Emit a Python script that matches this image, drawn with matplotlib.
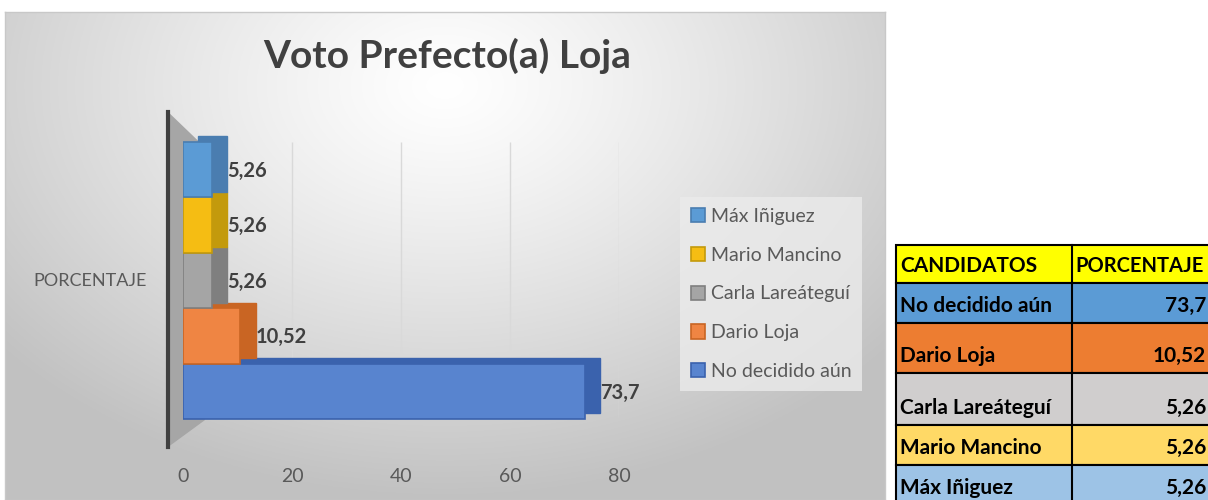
import numpy as np
import matplotlib
matplotlib.use("Agg")
import matplotlib.pyplot as plt
import matplotlib.patches as patches
from matplotlib.transforms import ScaledTranslation

plt.rcParams["font.family"] = ["Lato", "DejaVu Sans"]

# data
candidatos = ["No decidido aún", "Dario Loja", "Carla Lareáteguí", "Mario Mancino", "Máx Iñiguez"]
porcentaje = [73.7, 10.52, 5.26, 5.26, 5.26]
etiquetas = ["73,7", "10,52", "5,26", "5,26", "5,26"]
front_colors = ["#5884cf", "#ef8543", "#a5a5a5", "#f5bd13", "#5b9bd5"]
side_colors = ["#3a62ad", "#c96523", "#7f7f7f", "#c39a0c", "#4a7db0"]
table_colors = ["#5b9bd5", "#ed7d31", "#d0cece", "#ffd966", "#9dc3e6"]
xticks = [0, 20, 40, 60, 80]

W, H = 1208, 500
fig = plt.figure(figsize=(W / 100, H / 100), dpi=100)
fig.patch.set_facecolor("white")

# chart panel with radial gradient background
bg = fig.add_axes([5 / W, 0, 880 / W, 488 / H])
yy, xx = np.mgrid[0:1:300j, 0:1:600j]
r = np.sqrt(((xx - 0.5) / 0.7) ** 2 + ((yy - 0.15) / 0.9) ** 2)
g = np.clip(1.0 - 0.26 * r ** 1.2, 0.76, 1.0)
bg.imshow(np.dstack([g, g, g]), extent=[0, 1, 0, 1], origin="upper", aspect="auto")
bg.set_xlim(0, 1)
bg.set_ylim(0, 1)
bg.set_xticks([])
bg.set_yticks([])
for s in bg.spines.values():
    s.set_color("#c8c8c8")
    s.set_linewidth(1)

fig.text(447 / W, 1 - 56 / H, "Voto Prefecto(a) Loja", ha="center", va="center",
         fontsize=28, fontweight="bold", color="#404040")

# main axes
ax = fig.add_axes([183 / W, 53 / H, 436 / W, 335 / H])
ax.patch.set_alpha(0)
ax.set_xlim(0, 80)
ax.set_ylim(-1.005, 5.04)
for s in ax.spines.values():
    s.set_visible(False)
ax.set_yticks([])
ax.set_xticks(xticks)
ax.set_xticklabels([str(t) for t in xticks], fontsize=14, color="#595959")
ax.tick_params(axis="x", length=0, pad=15)
ax.vlines(xticks[1:], 0.09, 0.91, transform=ax.get_xaxis_transform(),
          color="#d9d9d9", lw=1, zorder=0)

# side wall and axis line
wall = patches.Polygon([(-0.034, 1.0), (0.050, 0.895), (0.050, 0.08), (-0.034, 0.0)],
                       closed=True, transform=ax.transAxes, clip_on=False,
                       facecolor="#a6a6a6", edgecolor="none", zorder=1)
ax.add_patch(wall)
ax.plot([-0.034, -0.034], [0, 1], transform=ax.transAxes, clip_on=False,
        color="#404040", lw=3, zorder=2)

# bars: depth face behind, front face on top
y = np.arange(len(candidatos))
depth = ax.transData + ScaledTranslation(11 / 72, 4 / 72, fig.dpi_scale_trans)
ax.barh(y, porcentaje, height=1.0, color=side_colors, edgecolor=side_colors,
        lw=1, transform=depth, zorder=3)
bars = ax.barh(y, porcentaje, height=1.0, color=front_colors,
               edgecolor=side_colors, lw=1.2, zorder=4)
for yi, v, lab in zip(y, porcentaje, etiquetas):
    ax.annotate(lab, xy=(v, yi), xytext=(11, -1), textcoords="offset points",
                va="center", ha="left", fontsize=14.5, fontweight="bold",
                color="#404040", zorder=5)

fig.text(90 / W, 1 - 281 / H, "PORCENTAJE", ha="center", va="center",
         fontsize=13, color="#595959")

# legend
leg = fig.legend(list(bars)[::-1], candidatos[::-1], loc="center left",
                 bbox_to_anchor=(680 / W, 1 - 294 / H), bbox_transform=fig.transFigure,
                 fontsize=14, labelcolor="#595959", frameon=True, fancybox=False,
                 handlelength=0.75, handleheight=0.75, handletextpad=0.3,
                 labelspacing=1.12, borderpad=0.55, borderaxespad=0)
leg.get_frame().set_facecolor("#ebebeb")
leg.get_frame().set_edgecolor("none")

# table on the right
tab = fig.add_axes([0, 0, 1, 1])
tab.set_xlim(0, W)
tab.set_ylim(H, 0)
tab.axis("off")
tab.patch.set_alpha(0)
row_edges = [245, 283, 323, 373, 425, 465, 505]
x0, x1, x2 = 896, 1072, 1220
rows = [("CANDIDATOS", "PORCENTAJE", "#ffff00")]
rows += [(c, e, col) for c, e, col in zip(candidatos, etiquetas, table_colors)]
for i, (c1, c2, col) in enumerate(rows):
    top, bot = row_edges[i], row_edges[i + 1]
    tab.add_patch(patches.Rectangle((x0, top), x2 - x0, bot - top, facecolor=col,
                                    edgecolor="black", lw=1.5))
    tab.plot([x1, x1], [top, bot], color="black", lw=1.5)
    tab.text(x0 + 4, bot - 7, c1, ha="left", va="bottom", fontsize=15,
             fontweight="bold", color="black")
    if i == 0:
        tab.text(x1 + 3, bot - 7, c2, ha="left", va="bottom", fontsize=14.5,
                 fontweight="bold", color="black")
    else:
        tab.text(1206, bot - 7, c2, ha="right", va="bottom", fontsize=15,
                 fontweight="bold", color="black")

fig.savefig("out.png", dpi=100)
